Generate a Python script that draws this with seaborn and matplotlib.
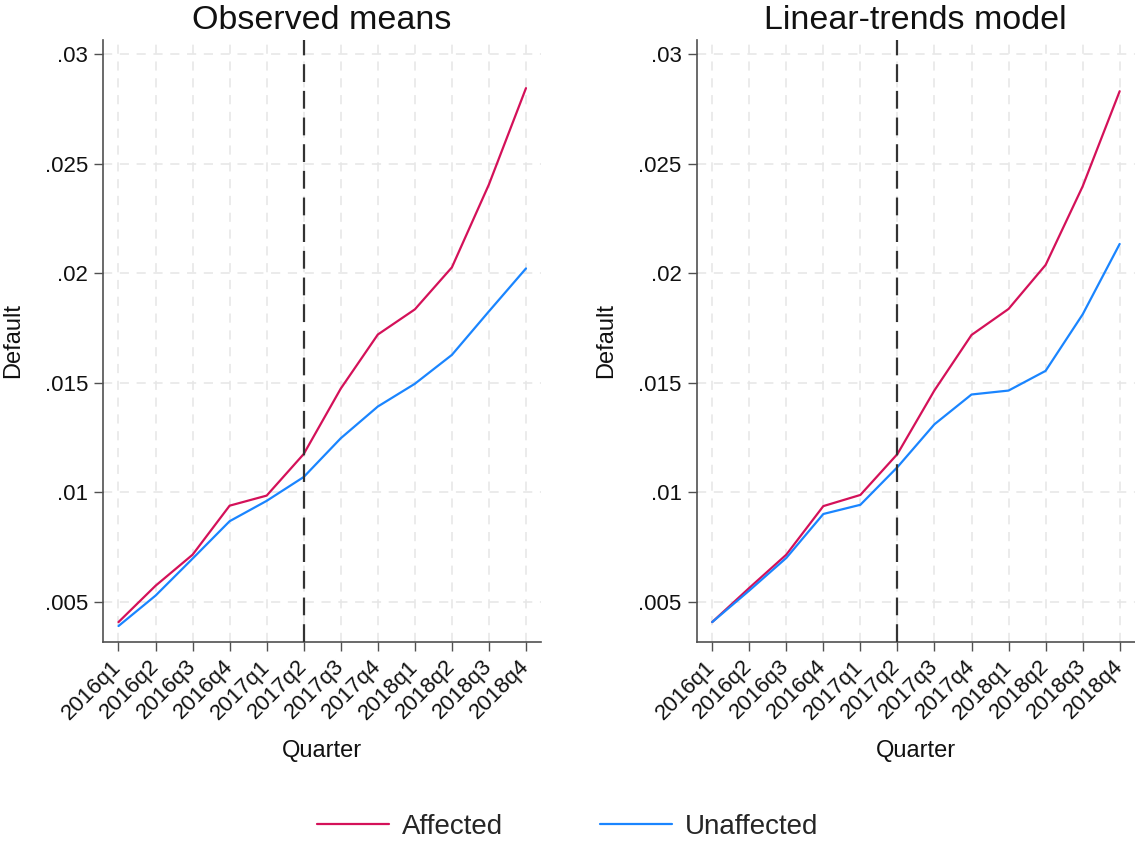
import numpy as np
import pandas as pd
import matplotlib
matplotlib.use("Agg")
import matplotlib.pyplot as plt
from matplotlib.ticker import FixedLocator, FuncFormatter
import seaborn as sns

# Quarterly default rates by group
quarters = ["2016q1", "2016q2", "2016q3", "2016q4",
            "2017q1", "2017q2", "2017q3", "2017q4",
            "2018q1", "2018q2", "2018q3", "2018q4"]

obs_affected = [0.00406, 0.00572, 0.00714, 0.00938, 0.00984, 0.01174,
                0.01473, 0.01720, 0.01835, 0.02027, 0.02406, 0.02846]
obs_unaffected = [0.00388, 0.00527, 0.00696, 0.00867, 0.00960, 0.01069,
                  0.01246, 0.01391, 0.01495, 0.01627, 0.01826, 0.02022]

lin_affected = [0.00406, 0.00562, 0.00714, 0.00936, 0.00987, 0.01174,
                0.01465, 0.01718, 0.01837, 0.02038, 0.02397, 0.02832]
lin_unaffected = [0.00406, 0.00550, 0.00699, 0.00900, 0.00942, 0.01114,
                  0.01310, 0.01446, 0.01464, 0.01554, 0.01812, 0.02134]

groups = ["Affected", "Unaffected"]
panel_titles = ["Observed means", "Linear-trends model"]
y_ticks = [0.005, 0.01, 0.015, 0.02, 0.025, 0.03]
event_quarter = "2017q2"

palette = {"Affected": "#D41159", "Unaffected": "#1A85FF"}


def long_frame(affected, unaffected):
    return pd.DataFrame({
        "Quarter": quarters * 2,
        "Default": list(affected) + list(unaffected),
        "Group": [groups[0]] * len(quarters) + [groups[1]] * len(quarters),
    })


panels = [long_frame(obs_affected, obs_unaffected),
          long_frame(lin_affected, lin_unaffected)]

sns.set_style("white")
plt.rcParams["font.family"] = ["Liberation Sans", "DejaVu Sans"]

W, H = 1135, 841
fig = plt.figure(figsize=(W / 100, H / 100), dpi=100)

ax_left_px = [103.3, 697.0]
ax_w_px = 437.5
ax_top_px, ax_bot_px = 40.0, 642.0

spine_col = "#505050"
grid_col = "#E6E6E6"

for i, df in enumerate(panels):
    ax = fig.add_axes([ax_left_px[i] / W, 1 - ax_bot_px / H,
                       ax_w_px / W, (ax_bot_px - ax_top_px) / H])
    sns.lineplot(data=df, x="Quarter", y="Default", hue="Group",
                 palette=palette, hue_order=groups, linewidth=1.6,
                 sort=False, legend=(i == 0), ax=ax)

    ax.set_xlim(-0.41, len(quarters) - 1 + 0.40)
    ax.set_ylim(0.00315, 0.03066)

    ax.xaxis.set_major_locator(FixedLocator(range(len(quarters))))
    ax.set_xticklabels(quarters)
    ax.yaxis.set_major_locator(FixedLocator(y_ticks))
    ax.yaxis.set_major_formatter(
        FuncFormatter(lambda v, p: ("%g" % v).lstrip("0")))

    # light dashed grid
    ax.grid(True, color=grid_col, linewidth=1.1, linestyle=(0, (6, 5)))
    ax.set_axisbelow(True)

    # event marker
    ax.axvline(quarters.index(event_quarter), color="#333333",
               linewidth=1.6, linestyle=(0, (8, 4)), zorder=3)

    for side in ["top", "right"]:
        ax.spines[side].set_visible(False)
    for side in ["left", "bottom"]:
        ax.spines[side].set_color(spine_col)
        ax.spines[side].set_linewidth(1.2)

    ax.tick_params(axis="both", which="major", direction="out",
                   length=6.5, width=1.0, color=spine_col,
                   labelsize=16, labelcolor="#111111", pad=4.5,
                   left=True, bottom=True)
    for lab in ax.get_xticklabels():
        lab.set_rotation(45)
        lab.set_ha("right")
        lab.set_va("center")
        lab.set_rotation_mode("anchor")
    ax.tick_params(axis="x", pad=9)

    ax.set_title(panel_titles[i], fontsize=24.5, color="#111111", pad=8)
    ax.set_xlabel("Quarter", fontsize=17, color="#111111", labelpad=12)
    ax.set_ylabel("Default", fontsize=17, color="#111111", labelpad=15)

    if i == 0:
        handles, labels = ax.get_legend_handles_labels()
        ax.get_legend().remove()

fig.legend(handles, labels, loc="center",
           bbox_to_anchor=(0.5, 1 - 827 / H), ncol=2, frameon=False,
           fontsize=20, handlelength=2.6, handletextpad=0.45,
           columnspacing=3.5)

fig.savefig("out.png", dpi=100, facecolor="white")
